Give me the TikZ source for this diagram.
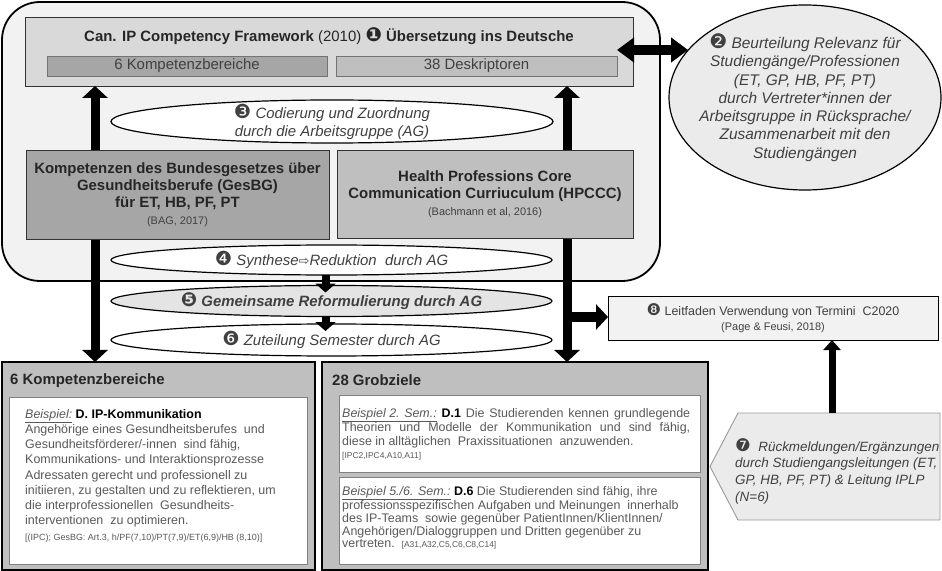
\documentclass[tikz,border=0pt]{standalone}
\usepackage{graphicx}
\usepackage{fontspec}
\setmainfont{Liberation Sans}
\newfontfamily\dingfont{DejaVu Sans}
\usetikzlibrary{shapes,calc,positioning,arrows.meta}

\definecolor{framefill}{HTML}{F2F2F2}
\definecolor{topfill}{HTML}{D9D9D9}
\definecolor{darkfill}{HTML}{A6A6A6}
\definecolor{midfill}{HTML}{BFBFBF}
\definecolor{lightfill}{HTML}{EBEBEB}
\definecolor{bodygray}{HTML}{595959}
\definecolor{textdark}{HTML}{404040}
\definecolor{refgray}{HTML}{808080}

\newcommand{\fs}[2]{\fontsize{#1}{#2}\selectfont}
\newcommand{\cnum}[1]{\scalebox{1.3}{\dingfont #1}}

\begin{document}
\begin{tikzpicture}[x=1bp, y=-1bp,
  graybox/.style={rectangle, draw=black!80, line width=0.9bp, inner sep=0pt, outer sep=0pt},
  subbox/.style={rectangle, draw=black!55, line width=0.7bp, inner sep=0pt, outer sep=0pt, font=\fs{15}{18}, text=textdark},
  oval/.style={ellipse, draw=black, line width=1.2bp, inner sep=0pt, outer sep=0pt},
  ovaltext/.style={align=center, font=\fs{15}{18}\itshape, text=textdark, inner sep=0pt},
  bigbox/.style={rectangle, draw=black, line width=2.6bp, fill=midfill, inner sep=0pt, outer sep=0pt},
  whitebox/.style={rectangle, draw=black!50, line width=0.9bp, fill=white, inner sep=0pt, outer sep=0pt},
  bodytext/.style={anchor=north west, align=left, inner sep=0pt, text=bodygray},
  bigarrow/.style={line width=9bp, arrows={Triangle[width=25bp,length=12bp]-Triangle[width=25bp,length=12bp]}},
  dblarrow/.style={line width=10bp, arrows={Triangle[width=24bp,length=17bp]-Triangle[width=24bp,length=17bp]}},
  sidearrow/.style={line width=10bp, arrows={-Triangle[width=25bp,length=12bp]}},
  smallarrow/.style={line width=8bp, arrows={-Triangle[width=20bp,length=9bp]}},
  uparrow/.style={line width=7bp, arrows={-Triangle[width=17bp,length=10bp]}}
]
\useasboundingbox (0,0) rectangle (942,571);

% x positions of the long vertical arrows
\pgfmathsetmacro{\xl}{95}  % left arrow
\pgfmathsetmacro{\xr}{567} % right arrow
\pgfmathsetmacro{\xf}{832} % feedback arrow
\coordinate (xl) at (\xl,0);
\coordinate (xr) at (\xr,0);
\coordinate (xf) at (\xf,0);

% Rounded frame round the first steps
\draw[line width=1.8bp, fill=framefill, rounded corners=38bp] (2,2) rectangle (660,281);

% Nodes of the upper part
\node[graybox, fill=topfill, minimum width=608bp, minimum height=69bp] (cipf) at (329,51.5) {};
\node[inner sep=0pt, font=\fs{15}{18}\bfseries, text=black!85] (cipftitle) at (329,36) {Can. IP Competency Framework \textmd{(2010)} \cnum{❶} Übersetzung ins Deutsche};
\node[subbox, fill=darkfill, minimum width=280bp, minimum height=20bp] (kb) at (187,66) {6 Kompetenzbereiche};
\node[subbox, fill=midfill, minimum width=281bp, minimum height=20bp] (dk) at (476.5,66) {38 Deskriptoren};

% Long arrows (drawn before the boxes that cover them)
\node[bigbox, minimum width=313bp, minimum height=208bp] (kbox) at (158.5,466) {};
\node[bigbox, minimum width=386bp, minimum height=208bp] (gbox) at (515,466) {};
\draw[bigarrow] (cipf.south -| xl) -- (kbox.north -| xl);
\draw[bigarrow] (cipf.south -| xr) -- (gbox.north -| xr);

\node[oval, fill=white, minimum width=442bp, minimum height=43bp] (coding) at (332,121.5) {};
\node[ovaltext] at (coding) {\cnum{❸} Codierung und Zuordnung\\durch die Arbeitsgruppe (AG)};

\node[graybox, fill=darkfill, minimum width=303bp, minimum height=89bp, align=center, font=\fs{15}{17}\bfseries, text=black!85] (gesbg) at (177.5,194.5)
  {Kompetenzen des Bundesgesetzes über\\Gesundheitsberufe (GesBG)\\für ET, HB, PF, PT\\{\fs{11}{17}\mdseries\color{textdark}(BAG, 2017)}};
\node[graybox, fill=midfill, minimum width=296bp, minimum height=88bp, align=center, font=\fs{15}{17}\bfseries, text=black!85] (hpccc) at (485,194)
  {Health Professions Core\\Communication Curriuculum (HPCCC)\\{\fs{11}{17}\mdseries\color{textdark}(Bachmann et al, 2016)}};

% The three working steps
\node[oval, fill=white, minimum width=441bp, minimum height=30bp] (synth) at (331.5,260) {};
\node[ovaltext] at (synth) {\cnum{❹} Synthese{\dingfont\fs{13}{15}⇨}Reduktion\ \ durch AG};
\node[oval, fill=topfill!70, minimum width=441bp, minimum height=31bp] (reform) at (331.5,301) {};
\node[ovaltext, font=\fs{15}{18}\bfseries\itshape] at (reform) {\cnum{❺} Gemeinsame Reformulierung durch AG};
\node[oval, fill=white, minimum width=441bp, minimum height=32bp] (sem) at (331.5,340) {};
\node[ovaltext] at (sem) {\cnum{❻} Zuteilung Semester durch AG};
\draw[smallarrow] ([xshift=-6bp]synth.south) -- ([xshift=-6bp,yshift=-7bp]reform.north);
\draw[smallarrow] ([xshift=-6bp]reform.south) -- ([xshift=-6bp,yshift=-7bp]sem.north);

% Relevance check
\node[oval, fill=lightfill, minimum width=272bp, minimum height=185bp] (relev) at (805,97.5) {};
\node[ovaltext, font=\fs{15.5}{18.3}\itshape] at (relev) {\cnum{❷} Beurteilung Relevanz für\\Studiengänge/Professionen\\(ET, GP, HB, PF, PT)\\durch Vertreter*innen der\\Arbeitsgruppe in Rücksprache/\\Zusammenarbeit mit den\\Studiengängen};
\coordinate (dstart) at (617,50);
\draw[dblarrow] (dstart) -- (dstart -| relev.158);

% Guideline and feedback
\node[graybox, draw=black, fill=framefill, minimum width=330bp, minimum height=44bp, align=center, font=\fs{12.5}{15}, text=textdark] (leit) at (773,318)
  {\cnum{❽} Leitfaden Verwendung von Termini\ \ C2020\\{\fs{11}{15}(Page \& Feusi, 2018)}};
\coordinate (branch) at (\xr,317);
\draw[sidearrow] (branch) -- (branch -| leit.west);

\node[minimum width=202bp, minimum height=107bp, inner sep=0pt, outer sep=0pt] (rueck) at (839,466.5) {};
\draw[draw=black!40, line width=0.9bp, fill=lightfill] (rueck.north west) -- (rueck.north east) -- (rueck.south east) -- (rueck.south west) -- ([xshift=-28bp]rueck.west) -- cycle;
\node[bodytext, font=\fs{13.5}{16.7}\itshape, text=textdark] (ruecktext) at (735,438)
  {\cnum{❼}\ \ Rückmeldungen/Ergänzungen\\durch Studiengangsleitungen (ET,\\GP, HB, PF, PT) \& Leitung IPLP\\(N=6)};
\draw[uparrow] (rueck.north -| xf) -- (leit.south -| xf);

% Lower boxes
\node[anchor=west, inner sep=0pt, font=\fs{15}{18}\bfseries, text=black!85] (kbtitle) at (10,381) {6 Kompetenzbereiche};
\node[whitebox, minimum width=298bp, minimum height=167bp] (kbinner) at (158,480.5) {};
\node[bodytext, font=\fs{12.5}{15.3}] (kbtext) at (25,409)
  {\underline{\textit{Beispiel:}} {\color{black}\bfseries D. IP-Kommunikation}\\
   Angehörige eines Gesundheitsberufes\ \ und\\
   Gesundheitsförderer/-innen\ \ sind fähig,\\
   Kommunikations- und Interaktionsprozesse\\
   Adressaten gerecht und professionell zu\\
   initiieren, zu gestalten und zu reflektieren, um\\
   die interprofessionellen\ \ Gesundheits-\\
   interventionen\ \ zu optimieren.\\
   {\fs{9}{17}[(IPC); GesBG: Art.3, h/PF(7,10)/PT(7,9)/ET(6,9)/HB (8,10)]}};

\node[anchor=west, inner sep=0pt, font=\fs{15}{18}\bfseries, text=black!85] (gztitle) at (332,380) {28 Grobziele};
\node[whitebox, minimum width=361bp, minimum height=77bp] (gzone) at (519.5,433.5) {};
\node[bodytext, font=\fs{12.5}{13.3}] (gzonetext) at (342,408)
  {\makebox[348bp][s]{\underline{\textit{Beispiel 2. Sem.:}} {\color{black}\bfseries D.1} Die Studierenden kennen grundlegende}\\
   \makebox[348bp][s]{Theorien und Modelle der Kommunikation und sind fähig,}\\
   diese in alltäglichen\ \ Praxissituationen\ \ anzuwenden.\\
   {\fs{8.5}{11.5}[IPC2,IPC4,A10,A11]}};
\node[whitebox, minimum width=361bp, minimum height=87bp] (gztwo) at (519.5,520.5) {};
\node[bodytext, font=\fs{12.5}{12.7}] (gztwotext) at (342,486)
  {\underline{\textit{Beispiel 5./6. Sem.:}} {\color{black}\bfseries D.6} Die Studierenden sind fähig, ihre\\
   professionsspezifischen Aufgaben und Meinungen\ \ innerhalb\\
   des IP-Teams\ \ sowie gegenüber PatientInnen/KlientInnen/\\
   Angehörigen/Dialoggruppen und Dritten gegenüber zu\\
   vertreten.\ \ {\fs{8.5}{12.7}[A31,A32,C5,C6,C8,C14]}};

\end{tikzpicture}
\end{document}
